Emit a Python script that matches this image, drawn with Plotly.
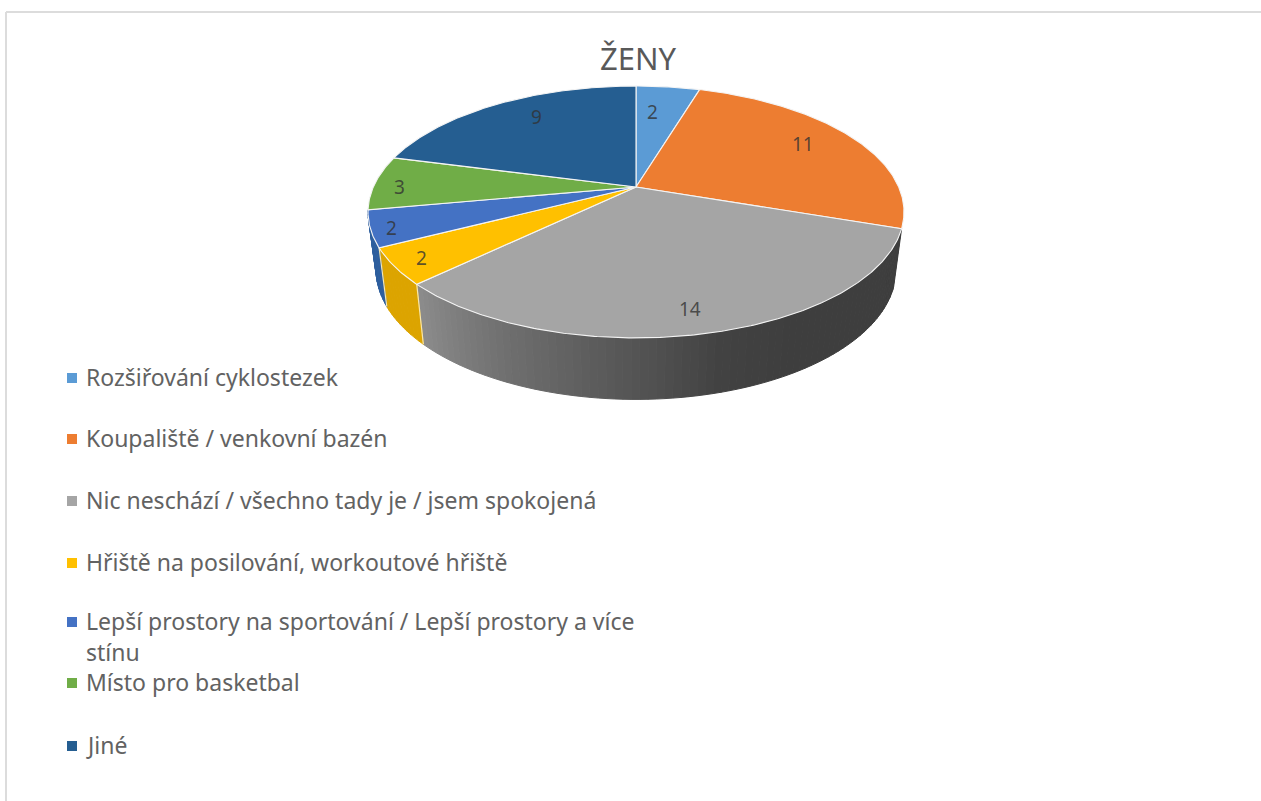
import numpy as np
import plotly.graph_objects as go

# --- data ---
CATEGORIES = [
    "Rozšiřování cyklostezek",
    "Koupaliště / venkovní bazén",
    "Nic neschází / všechno tady je / jsem spokojená",
    "Hřiště na posilování, workoutové hřiště",
    "Lepší prostory na sportování / Lepší prostory a více\nstínu",
    "Místo pro basketbal",
    "Jiné",
]
VALUES = [2, 11, 14, 2, 2, 3, 9]
COLORS = ["#5B9BD5", "#ED7D31", "#A5A5A5", "#FFC000", "#4472C4", "#70AD47", "#255E91"]
TITLE = "ŽENY"

# --- projection of the tilted pie, in page units ---
CX, CY = 636.0, 187.0
A, B, K = 262.7, 121.0, 0.198
S_X, S_Y, DROP = 0.97, 1.03, 57.0


def project(theta_deg, r=1.0):
    t = np.radians(theta_deg)
    d = 1 + K * r * np.cos(t)
    return A * r * np.sin(t) / d, -B * r * np.cos(t) / d


def top(theta_deg, r=1.0):
    x, y = project(theta_deg, r)
    return CX + x, CY + y


def bottom(theta_deg):
    x, y = project(theta_deg)
    return CX + S_X * x, CY + S_Y * y + DROP


def rgb(level):
    v = int(round(level))
    return f"rgb({v},{v},{v})"


edges = np.cumsum([0] + VALUES) / sum(VALUES) * 360.0
fig = go.Figure()


def poly(xs, ys, fill, line=None, width=1.0):
    fig.add_trace(go.Scatter(
        x=list(xs), y=list(ys), mode="lines", fill="toself", fillcolor=fill,
        line=dict(color=line or fill, width=width), hoverinfo="skip", showlegend=False,
    ))


# side wall: front part of the gray, yellow and blue slices
GRAY_STOPS_T = [108, 150, 165, 180, 205, 226]
GRAY_STOPS_V = [62, 62, 66, 84, 112, 140]
SIDE_FLAT = {3: "#DCA400", 4: "#2E5F9E"}
for i in [2, 3, 4]:
    t0, t1 = edges[i], edges[i + 1]
    steps = np.arange(t0, t1 + 0.01, 1.5)
    if steps[-1] < t1:
        steps = np.append(steps, t1)
    for a, b in zip(steps[:-1], steps[1:]):
        xa, ya = top(a)
        xb, yb = top(b)
        xc, yc = bottom(b)
        xd, yd = bottom(a)
        col = rgb(np.interp((a + b) / 2, GRAY_STOPS_T, GRAY_STOPS_V)) if i == 2 else SIDE_FLAT[i]
        poly([xa, xb, xc, xd, xa], [ya, yb, yc, yd, ya], col, width=1.0)

# light seams on the wall
for t in [edges[3], edges[4]]:
    xa, ya = top(t)
    xd, yd = bottom(t)
    fig.add_trace(go.Scatter(x=[xa, xd], y=[ya, yd], mode="lines",
                             line=dict(color="#F6E6B0", width=1.2),
                             hoverinfo="skip", showlegend=False))

# top faces
for i, col in enumerate(COLORS):
    th = np.linspace(edges[i], edges[i + 1], max(int(edges[i + 1] - edges[i]), 2) * 2)
    xs, ys = top(th)
    poly(np.r_[CX, xs, CX], np.r_[CY, ys, CY], col, line="#F4F4F4", width=1.1)

# value labels
LABEL_R = [0.80, 0.75, 0.85, 0.90, 0.93, 0.90, 0.68]
LABEL_DX = [-10, 3, -4, 0, 1, -2, -1]
LABEL_DY = [-8, 4, -2, 0, -2, -4, 11]
LEG_Y = [378, 439, 501, 563, 622, 683, 746]
LINE_STEP = 31

annotations = []
for i, v in enumerate(VALUES):
    x, y = top((edges[i] + edges[i + 1]) / 2, LABEL_R[i])
    annotations.append(dict(x=x, y=y, text=str(v), showarrow=False, xshift=LABEL_DX[i],
                            yshift=LABEL_DY[i], xanchor="center", yanchor="middle",
                            font=dict(family="Noto Sans", size=19, color="rgba(50,50,50,0.8)")))

# legend
fig.add_trace(go.Scatter(x=[72] * len(COLORS), y=LEG_Y, mode="markers",
                         marker=dict(symbol="square", size=10, color=COLORS, line=dict(width=0)),
                         hoverinfo="skip", showlegend=False))
for cat, y in zip(CATEGORIES, LEG_Y):
    for n, line in enumerate(cat.split("\n")):
        annotations.append(dict(x=84, y=y - 1 + n * LINE_STEP, text=line, showarrow=False,
                                xanchor="left", yanchor="middle",
                                font=dict(family="Noto Sans", size=23, color="#626262")))

annotations.append(dict(x=638, y=58, text=TITLE, showarrow=False, xanchor="center", yanchor="middle",
                        font=dict(family="Noto Sans", size=31, color="#595959")))

frame = [
    dict(type="line", x0=6, x1=1261, y0=12, y1=12, line=dict(color="#DCDCDC", width=2)),
    dict(type="line", x0=6, x1=6, y0=12, y1=801, line=dict(color="#DCDCDC", width=2)),
]

fig.update_layout(
    width=1261, height=801, margin=dict(l=0, r=0, t=0, b=0),
    paper_bgcolor="white", plot_bgcolor="white", showlegend=False,
    xaxis=dict(range=[0, 1261], visible=False, fixedrange=True),
    yaxis=dict(range=[801, 0], visible=False, fixedrange=True),
    annotations=annotations, shapes=frame,
)
fig.write_html("out.html", config=dict(displayModeBar=False),
               post_script="document.body.style.margin='0';document.body.style.overflow='hidden';")
